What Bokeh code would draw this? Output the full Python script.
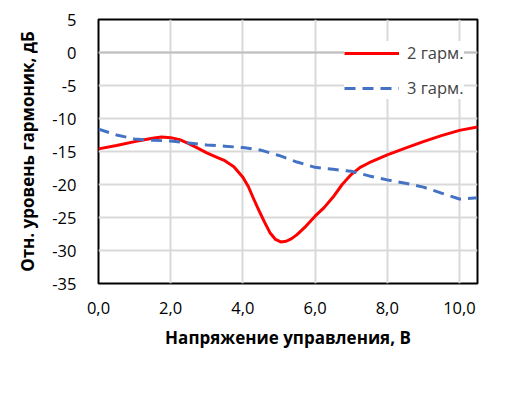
from bokeh.plotting import figure
from bokeh.models import FixedTicker, Span, Legend, LegendItem
from bokeh.embed import file_html
from bokeh.resources import INLINE

# Data
x_red = [0, 0.5, 1, 1.5, 1.75, 2, 2.25, 2.5, 2.75, 3, 3.25, 3.5, 3.75, 4, 4.15, 4.3, 4.45, 4.6, 4.75, 4.9, 5.05, 5.2, 5.35, 5.5, 5.75, 6, 6.25, 6.5, 6.75, 7, 7.25, 7.5, 8, 8.5, 9, 9.5, 10, 10.5]
y_red = [-14.6, -14.1, -13.5, -13.0, -12.8, -12.9, -13.2, -13.8, -14.5, -15.2, -15.8, -16.4, -17.3, -18.9, -20.3, -22.2, -24.0, -25.7, -27.3, -28.3, -28.7, -28.6, -28.2, -27.6, -26.3, -24.8, -23.5, -21.9, -20.0, -18.5, -17.4, -16.7, -15.5, -14.5, -13.5, -12.6, -11.8, -11.3]

x_blue = [0, 0.5, 1, 1.5, 2, 2.5, 3, 3.5, 4, 4.5, 5, 5.5, 6, 6.5, 7, 7.5, 8, 8.5, 9, 9.5, 10, 10.5]
y_blue = [-11.6, -12.5, -13.1, -13.3, -13.4, -13.7, -14.0, -14.2, -14.4, -14.8, -15.6, -16.6, -17.4, -17.7, -18.0, -18.7, -19.3, -19.8, -20.4, -21.3, -22.2, -22.0]

x_ticks = [0, 2, 4, 6, 8, 10]
x_tick_labels = ["0,0", "2,0", "4,0", "6,0", "8,0", "10,0"]
y_ticks = [-35, -30, -25, -20, -15, -10, -5, 0, 5]

series_names = ["2 гарм.", "3 гарм."]
x_title = "Напряжение управления, В"
y_title = "Отн. уровень гармоник, дБ"

FONT = "Open Sans"

p = figure(width=510, height=396, output_backend="svg", toolbar_location=None,
           x_range=(0, 10.5), y_range=(-35, 5),
           min_border_left=98, min_border_right=33, min_border_top=19, min_border_bottom=113)
p.background_fill_color = "white"
p.border_fill_color = "white"
p.outline_line_color = "black"
p.outline_line_width = 2

p.xaxis.ticker = FixedTicker(ticks=x_ticks)
p.xaxis.major_label_overrides = {t: l for t, l in zip(x_ticks, x_tick_labels)}
p.yaxis.ticker = FixedTicker(ticks=y_ticks)
p.yaxis.major_label_overrides = {t: str(t) for t in y_ticks}

for ax in (p.xaxis, p.yaxis):
    ax.axis_line_color = None
    ax.major_tick_line_color = None
    ax.minor_tick_line_color = None
    ax.major_label_text_font = FONT
    ax.major_label_text_font_size = "16.5px"
    ax.major_label_text_color = "#000000"
    ax.axis_label_text_font = FONT
    ax.axis_label_text_font_size = "17px"
    ax.axis_label_text_font_style = "bold"
    ax.axis_label_text_color = "#000000"

p.xaxis.axis_label = x_title
p.yaxis.axis_label = y_title
p.xaxis.major_label_standoff = 12
p.yaxis.major_label_standoff = 16
p.xaxis.axis_label_standoff = 9
p.yaxis.axis_label_standoff = 10

p.grid.grid_line_color = "#d9d9d9"
p.grid.grid_line_width = 2

p.add_layout(Span(location=0, dimension="width", line_color="#bfbfbf", line_width=2))

r_red = p.line(x_red, y_red, line_color="#ff0000", line_width=3, line_join="round")
r_blue = p.line(x_blue, y_blue, line_color="#4472c4", line_width=3, line_dash="11 7")

legend = Legend(items=[LegendItem(label=series_names[0], renderers=[r_red]),
                       LegendItem(label=series_names[1], renderers=[r_blue])],
                location=(246, 184), margin=0, padding=9, spacing=12,
                glyph_width=55, glyph_height=20, label_height=20, label_standoff=8,
                label_text_font=FONT, label_text_font_size="16.5px",
                background_fill_color="white", background_fill_alpha=1.0,
                border_line_color=None)
p.add_layout(legend, "center")

open("out.html", "w").write(file_html(p, INLINE))
